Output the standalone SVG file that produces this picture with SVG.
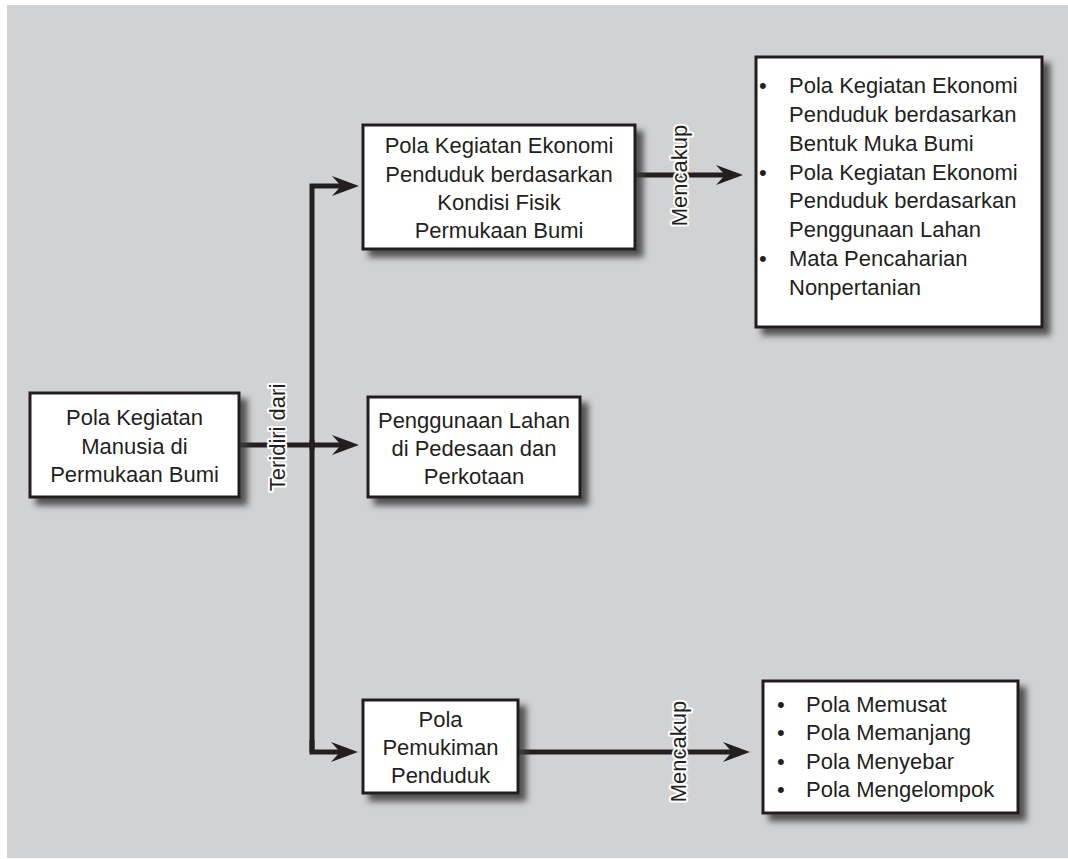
<svg xmlns="http://www.w3.org/2000/svg" width="1068" height="859" viewBox="0 0 1068 859">
<style>
.bg{fill:#d1d2d4}
.box{fill:#fff;stroke:#231f20;stroke-width:3}
.t{font-family:"Liberation Sans",Arial,sans-serif;font-size:22px;fill:#231f20}
.c{text-anchor:middle}
.lbl{font-family:"Liberation Sans",Arial,sans-serif;font-size:22px;fill:#231f20;text-anchor:middle;stroke:#fff;stroke-width:4;paint-order:stroke;stroke-linejoin:round}
.ln{fill:none;stroke:#231f20;stroke-width:5}
</style>
<defs>
<filter id="sh" x="-10%" y="-10%" width="130%" height="130%">
<feGaussianBlur in="SourceAlpha" stdDeviation="3"/>
<feOffset dx="7" dy="7" result="b"/>
<feFlood flood-color="#3c3c3c" flood-opacity="0.85"/>
<feComposite in2="b" operator="in" result="s"/>
<feMerge><feMergeNode in="s"/><feMergeNode in="SourceGraphic"/></feMerge>
</filter>
<marker id="ah" viewBox="0 -10 27 20" markerWidth="27" markerHeight="20" refX="9" refY="0" orient="auto" markerUnits="userSpaceOnUse">
<path d="M0,-10 L27,0 L0,10 L9,0 Z" fill="#231f20"/>
</marker>
</defs>
<rect class="bg" x="7" y="5" width="1061" height="853"/>

<g id="connectors">
<path class="ln" d="M239,445 H341" marker-end="url(#ah)"/>
<path class="ln" d="M312,752 V186 H341" marker-end="url(#ah)"/>
<path class="ln" d="M312,740 V752 H340" marker-end="url(#ah)"/>
<path class="ln" d="M312,440 V450"/>
<path class="ln" d="M635,175 H725" marker-end="url(#ah)"/>
<path class="ln" d="M518,752 H732" marker-end="url(#ah)"/>
<text class="lbl" transform="translate(285,437.5) rotate(-90)">Teridiri dari</text>
<text class="lbl" transform="translate(687,175.5) rotate(-90)">Mencakup</text>
<text class="lbl" transform="translate(686,751.5) rotate(-90)">Mencakup</text>
</g>

<g id="n1">
<rect class="box" x="30" y="393" width="209" height="104" filter="url(#sh)"/>
<text class="t c" x="134.5" y="425">Pola Kegiatan</text>
<text class="t c" x="134.5" y="454">Manusia di</text>
<text class="t c" x="134.5" y="482">Permukaan Bumi</text>
</g>

<g id="n2">
<rect class="box" x="363" y="125" width="272" height="124" filter="url(#sh)"/>
<text class="t c" x="499" y="153">Pola Kegiatan Ekonomi</text>
<text class="t c" x="499" y="182">Penduduk berdasarkan</text>
<text class="t c" x="499" y="210">Kondisi Fisik</text>
<text class="t c" x="499" y="238">Permukaan Bumi</text>
</g>

<g id="n3">
<rect class="box" x="368" y="397" width="212" height="100" filter="url(#sh)"/>
<text class="t c" x="474" y="428">Penggunaan Lahan</text>
<text class="t c" x="474" y="456">di Pedesaan dan</text>
<text class="t c" x="474" y="484">Perkotaan</text>
</g>

<g id="n4">
<rect class="box" x="363" y="700" width="155" height="93" filter="url(#sh)"/>
<text class="t c" x="440.5" y="727">Pola</text>
<text class="t c" x="440.5" y="755">Pemukiman</text>
<text class="t c" x="440.5" y="783">Penduduk</text>
</g>

<g id="n5">
<rect class="box" x="756" y="57" width="286" height="270" filter="url(#sh)"/>
<text class="t" x="759" y="93">•</text>
<text class="t" x="789" y="93">Pola Kegiatan Ekonomi</text>
<text class="t" x="789" y="122">Penduduk berdasarkan</text>
<text class="t" x="789" y="151">Bentuk Muka Bumi</text>
<text class="t" x="759" y="180">•</text>
<text class="t" x="789" y="180">Pola Kegiatan Ekonomi</text>
<text class="t" x="789" y="208">Penduduk berdasarkan</text>
<text class="t" x="789" y="237">Penggunaan Lahan</text>
<text class="t" x="759" y="266">•</text>
<text class="t" x="789" y="266">Mata Pencaharian</text>
<text class="t" x="789" y="295">Nonpertanian</text>
</g>

<g id="n6">
<rect class="box" x="763" y="681" width="255" height="132" filter="url(#sh)"/>
<text class="t" x="777" y="712">•</text>
<text class="t" x="806" y="712">Pola Memusat</text>
<text class="t" x="777" y="740">•</text>
<text class="t" x="806" y="740">Pola Memanjang</text>
<text class="t" x="777" y="769">•</text>
<text class="t" x="806" y="769">Pola Menyebar</text>
<text class="t" x="777" y="797">•</text>
<text class="t" x="806" y="797">Pola Mengelompok</text>
</g>
</svg>
